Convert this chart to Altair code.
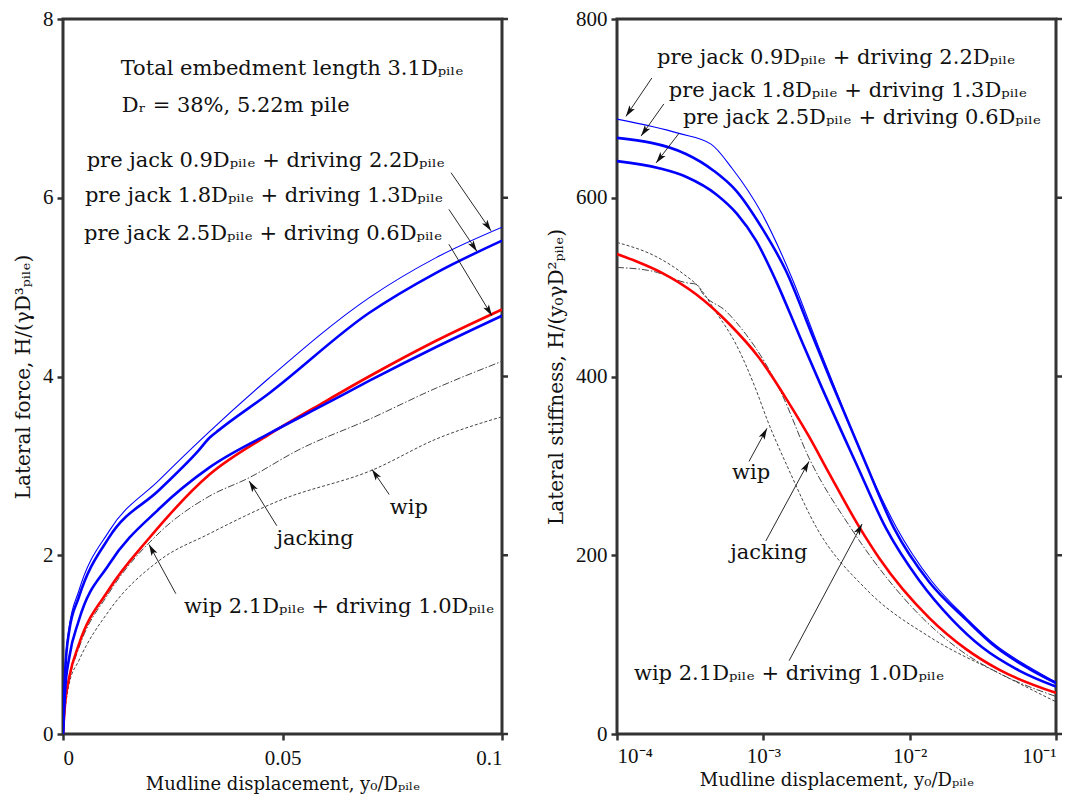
import math
import pandas as pd
import altair as alt

FONT = "DejaVu Serif"
TICK_FONT = "Liberation Serif"
INK = "#333333"
TXT = "#111111"
W, H = 439, 715

# ---------------- left panel: lateral force vs displacement ----------------
LF_PJ09_X = [0, 0.0005, 0.0014, 0.0036, 0.0105, 0.0219, 0.0333, 0.0469, 0.0697, 0.085, 0.1]
LF_PJ09_Y = [0, 0.75, 1.19, 1.60, 2.27, 2.84, 3.38, 3.98, 4.88, 5.33, 5.67]
LF_PJ18_X = [0, 0.0005, 0.0014, 0.0036, 0.0105, 0.0219, 0.0305, 0.0335, 0.0355, 0.0469, 0.0697, 0.085, 0.1]
LF_PJ18_Y = [0, 0.70, 1.15, 1.53, 2.20, 2.73, 3.15, 3.32, 3.40, 3.81, 4.71, 5.16, 5.52]
LF_PJ25_X = [0, 0.0005, 0.0014, 0.0036, 0.0105, 0.0219, 0.0333, 0.0469, 0.0597, 0.0697, 0.085, 0.1]
LF_PJ25_Y = [0, 0.50, 0.85, 1.27, 1.90, 2.52, 2.98, 3.36, 3.69, 3.95, 4.33, 4.68]
LF_WIPD_X = [0, 0.0005, 0.0014, 0.0036, 0.0105, 0.0196, 0.0333, 0.0469, 0.0597, 0.0697, 0.085, 0.1]
LF_WIPD_Y = [0, 0.35, 0.63, 1.00, 1.62, 2.19, 2.90, 3.35, 3.72, 4.00, 4.40, 4.75]
LF_JACK_X = [0, 0.0005, 0.0014, 0.0036, 0.0105, 0.0219, 0.0333, 0.0421, 0.0537, 0.0697, 0.085, 0.1]
LF_JACK_Y = [0, 0.33, 0.60, 0.96, 1.58, 2.25, 2.66, 2.86, 3.18, 3.52, 3.87, 4.17]
LF_WIP_X = [0, 0.0005, 0.0014, 0.0036, 0.0105, 0.0219, 0.0333, 0.0492, 0.0708, 0.085, 0.1]
LF_WIP_Y = [0, 0.28, 0.56, 0.82, 1.38, 1.94, 2.24, 2.61, 2.96, 3.30, 3.55]

# ---------------- right panel: lateral stiffness vs displacement ----------------
RS_PJ09_X = [1.0e-4, 2.65e-4, 4.39e-4, 6.11e-4, 9.80e-4, 1.57e-3, 2.40e-3, 3.14e-3, 4.88e-3, 8.07e-3, 1.40e-2, 2.43e-2, 3.90e-2, 6.55e-2, 0.1]
RS_PJ09_Y = [688, 672, 660, 633, 582, 510, 432, 384, 307, 232, 172, 130, 99, 75, 58]
RS_PJ18_X = [1.0e-4, 2.96e-4, 4.60e-4, 6.51e-4, 9.80e-4, 1.43e-3, 2.15e-3, 2.95e-3, 4.88e-3, 7.83e-3, 1.36e-2, 2.43e-2, 3.90e-2, 6.55e-2, 0.1]
RS_PJ18_Y = [667, 649, 630, 608, 566, 518, 447, 392, 307, 230, 170, 128, 97, 73, 57]
RS_PJ25_X = [1.0e-4, 1.94e-4, 3.01e-4, 4.75e-4, 6.61e-4, 8.92e-4, 1.22e-3, 1.75e-3, 2.52e-3, 4.30e-3, 6.90e-3, 1.16e-2, 1.95e-2, 3.13e-2, 5.60e-2, 0.1]
RS_PJ25_Y = [641, 633, 623, 604, 582, 552, 507, 447, 387, 303, 230, 172, 128, 97, 71, 53]
RS_WIPD_X = [1.0e-4, 1.35e-4, 2.03e-4, 3.47e-4, 5.83e-4, 9.35e-4, 1.50e-3, 2.05e-3, 2.81e-3, 4.51e-3, 6.18e-3, 1.36e-2, 2.43e-2, 4.08e-2, 0.1]
RS_WIPD_Y = [537, 529, 516, 492, 459, 421, 370, 333, 292, 232, 197, 130, 95, 72, 46]
RS_JACK_X = [1.0e-4, 1.73e-4, 2.96e-4, 3.52e-4, 3.81e-4, 5.56e-4, 7.62e-4, 1.04e-3, 1.34e-3, 2.05e-3, 3.98e-3, 1.22e-2, 2.25e-2, 4.08e-2, 0.1]
RS_JACK_Y = [522, 518, 505, 503, 494, 473, 447, 414, 380, 309, 230, 130, 93, 68, 42]
RS_WIP_X = [1.0e-4, 1.91e-4, 2.83e-4, 3.63e-4, 4.75e-4, 6.51e-4, 8.92e-4, 1.06e-3, 1.50e-3, 2.29e-3, 5.04e-3, 1.42e-2, 4.08e-2, 0.1]
RS_WIP_Y = [550, 533, 515, 500, 472, 436, 385, 352, 295, 232, 162, 107, 68, 36]

# line styles, drawn in this order (grey references first, blue last)
STYLES = {
    "wip":           dict(color="#444444", strokeWidth=1.0, strokeDash=[3, 2]),
    "jacking":       dict(color="#444444", strokeWidth=1.0, strokeDash=[7, 2, 1.5, 2]),
    "wip + driving": dict(color="#ff0000", strokeWidth=2.6),
    "pj 2.5":        dict(color="#0000ff", strokeWidth=2.6),
    "pj 1.8":        dict(color="#0000ff", strokeWidth=2.6),
    "pj 0.9":        dict(color="#0000ff", strokeWidth=1.1),
}

SUB = "ₚᵢₗₑ"
D = "D" + SUB

LEFT_LABELS = [
    ("Total embedment length 3.1" + D, 0.0522, 7.44, "center"),
    ("Dᵣ = 38%, 5.22m pile", 0.0134, 7.03, "left"),
    ("pre jack 0.9" + D + " + driving 2.2" + D, 0.0462, 6.41, "center"),
    ("pre jack 1.8" + D + " + driving 1.3" + D, 0.0458, 6.02, "center"),
    ("pre jack 2.5" + D + " + driving 0.6" + D, 0.0456, 5.60, "center"),
    ("jacking", 0.0574, 2.18, "center"),
    ("wip", 0.0788, 2.53, "center"),
    ("wip 2.1" + D + " + driving 1.0" + D, 0.0629, 1.42, "center"),
]
# arrows: (x_from, y_from, x_tip, y_tip)
LEFT_ARROWS = [
    (0.0884, 6.28, 0.0975, 5.63),
    (0.0879, 5.87, 0.0943, 5.40),
    (0.0879, 5.48, 0.0977, 4.68),
    (0.0487, 2.33, 0.0424, 2.83),
    (0.0743, 2.68, 0.0704, 2.96),
    (0.0257, 1.57, 0.0196, 2.12),
]

RIGHT_LABELS = [
    ("pre jack 0.9" + D + " + driving 2.2" + D, 1.88e-4, 756, "left"),
    ("pre jack 1.8" + D + " + driving 1.3" + D, 2.26e-4, 720, "left"),
    ("pre jack 2.5" + D + " + driving 0.6" + D, 2.82e-4, 689, "left"),
    ("wip", 8.24e-4, 292, "center"),
    ("jacking", 1.09e-3, 203, "center"),
    ("wip 2.1" + D + " + driving 1.0" + D, 1.5e-3, 67, "center"),
]
RIGHT_ARROWS = [
    (1.73e-4, 734, 1.15e-4, 691),
    (2.09e-4, 705, 1.46e-4, 669),
    (2.65e-4, 672, 1.85e-4, 639),
    (7.98e-4, 305, 1.06e-3, 342),
    (1.04e-3, 216, 2.05e-3, 305),
    (1.5e-3, 82, 4.73e-3, 235),
]

LEFT_XTICKS = [0, 0.05, 0.1]
LEFT_YTICKS = [0, 2, 4, 6, 8]
RIGHT_XTICKS = [1e-4, 1e-3, 1e-2, 1e-1]
RIGHT_YTICKS = [0, 200, 400, 600, 800]

# barbed arrow head, tip at the origin, pointing up before rotation
ARROW_PATH = "M0,0L0.38,1.3L0,1.0L-0.38,1.3Z"


def arrow_frame(arrows, to_px, to_py):
    rows = []
    for x0, y0, x1, y1 in arrows:
        dx = to_px(x1) - to_px(x0)
        dy = to_py(y1) - to_py(y0)
        ang = math.degrees(math.atan2(dx, -dy)) % 360
        rows.append({"x": x0, "y": y0, "x2": x1, "y2": y1, "angle": ang})
    return pd.DataFrame(rows)


def panel(series, labels, arrows, xscale, yscale, xaxis, yaxis, yticks, to_px, to_py):
    layers = []
    for i, (name, xs, ys) in enumerate(series):
        df = pd.DataFrame({"x": xs, "y": ys})
        enc = dict(x=alt.X("x:Q", scale=xscale), y=alt.Y("y:Q", scale=yscale))
        if i == 0:
            enc = dict(x=alt.X("x:Q", scale=xscale, axis=xaxis), y=alt.Y("y:Q", scale=yscale, axis=yaxis))
        layers.append(alt.Chart(df).mark_line(interpolate="monotone", clip=True, **STYLES[name]).encode(**enc))

    # mirrored tick marks along the right edge of the frame
    tdf = pd.DataFrame({"y": yticks})
    layers.append(alt.Chart(tdf).mark_rule(color=INK, strokeWidth=2.5).encode(
        y=alt.Y("y:Q", scale=yscale), x=alt.value(W), x2=alt.value(W + 6)))

    adf = arrow_frame(arrows, to_px, to_py)
    layers.append(alt.Chart(adf).mark_rule(color=TXT, strokeWidth=0.9).encode(
        x=alt.X("x:Q", scale=xscale), y=alt.Y("y:Q", scale=yscale), x2="x2:Q", y2="y2:Q"))
    layers.append(alt.Chart(adf).mark_point(shape=ARROW_PATH, filled=True, color=TXT, size=300, opacity=1).encode(
        x=alt.X("x2:Q", scale=xscale), y=alt.Y("y2:Q", scale=yscale),
        angle=alt.Angle("angle:Q", scale=None)))

    ldf = pd.DataFrame(labels, columns=["text", "x", "y", "align"])
    for al in ["center", "left"]:
        sub = ldf[ldf["align"] == al]
        if len(sub):
            layers.append(alt.Chart(sub).mark_text(align=al, baseline="middle", font=FONT, fontSize=21, color=TXT).encode(
                x=alt.X("x:Q", scale=xscale), y=alt.Y("y:Q", scale=yscale), text="text:N"))
    return alt.layer(*layers).properties(width=W, height=H)


axis_common = dict(domain=False, grid=False, tickSize=6, tickWidth=2.5, tickColor=INK,
                   labelFont=TICK_FONT, labelFontSize=21, labelColor=TXT,
                   titleFont=FONT, titleFontSize=18, titleFontWeight="normal", titleColor=TXT)
yaxis_common = dict(axis_common, titleFontSize=20)

lx = alt.Scale(domain=[0, 0.1], nice=False, zero=False)
ly = alt.Scale(domain=[0, 8], nice=False)
rx = alt.Scale(type="log", domain=[1e-4, 0.1], nice=False)
ry = alt.Scale(domain=[0, 800], nice=False)

left = panel(
    [("wip", LF_WIP_X, LF_WIP_Y), ("jacking", LF_JACK_X, LF_JACK_Y), ("wip + driving", LF_WIPD_X, LF_WIPD_Y),
     ("pj 2.5", LF_PJ25_X, LF_PJ25_Y), ("pj 1.8", LF_PJ18_X, LF_PJ18_Y), ("pj 0.9", LF_PJ09_X, LF_PJ09_Y)],
    LEFT_LABELS, LEFT_ARROWS, lx, ly,
    alt.Axis(values=LEFT_XTICKS, format="~g", title="Mudline displacement, y₀/" + D,
             labelPadding=7, titlePadding=7, **axis_common),
    alt.Axis(values=LEFT_YTICKS, format="d", title="Lateral force, H/(γD³" + SUB + ")",
             labelPadding=4, titlePadding=9, **yaxis_common),
    LEFT_YTICKS,
    lambda v: v / 0.1 * W, lambda v: H - v / 8 * H,
)
right = panel(
    [("wip", RS_WIP_X, RS_WIP_Y), ("jacking", RS_JACK_X, RS_JACK_Y), ("wip + driving", RS_WIPD_X, RS_WIPD_Y),
     ("pj 2.5", RS_PJ25_X, RS_PJ25_Y), ("pj 1.8", RS_PJ18_X, RS_PJ18_Y), ("pj 0.9", RS_PJ09_X, RS_PJ09_Y)],
    RIGHT_LABELS, RIGHT_ARROWS, rx, ry,
    alt.Axis(values=RIGHT_XTICKS, title="Mudline displacement, y₀/" + D, labelPadding=5, titlePadding=5,
             labelExpr="round(log(datum.value)/LN10) == -4 ? '10⁻⁴' : round(log(datum.value)/LN10) == -3 ? '10⁻³' : round(log(datum.value)/LN10) == -2 ? '10⁻²' : '10⁻¹'",
             **axis_common),
    alt.Axis(values=RIGHT_YTICKS, format="d", title="Lateral stiffness, H/(y₀γD²" + SUB + ")",
             labelPadding=4, titlePadding=9, **yaxis_common),
    RIGHT_YTICKS,
    lambda v: (math.log10(v) + 4) / 3 * W, lambda v: H - v / 800 * H,
)

chart = alt.hconcat(left, right).properties(
    padding={"left": 12, "top": 6, "right": 5, "bottom": 5},
    background="white",
).configure_view(stroke=INK, strokeWidth=3).configure_concat(spacing=34)

chart.save("out.html", embed_options={"renderer": "svg", "actions": False})
